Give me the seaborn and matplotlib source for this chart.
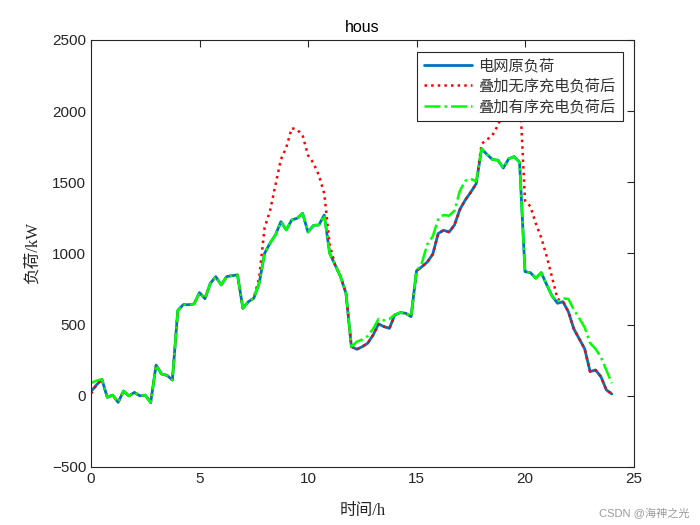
import numpy as np
import matplotlib
matplotlib.use('Agg')
import matplotlib.pyplot as plt
import seaborn as sns

# time axis, 15 min steps over one day
hours = np.arange(97) * 0.25

# original grid load (kW)
base_load = [
    30, 76, 116, -11, 5, -46, 34, -1, 24, 0, 5, -48,
    216, 153, 144, 111, 600, 640, 640, 645, 725, 682, 790, 837,
    779, 837, 844, 849, 615, 661, 685, 790, 1001, 1072, 1130, 1223,
    1165, 1235, 1247, 1282, 1150, 1197, 1200, 1270, 1001, 919, 837, 720,
    345, 327, 345, 369, 427, 505, 486, 474, 568, 584, 580, 556,
    878, 907, 940, 995, 1140, 1163, 1150, 1200, 1310, 1376, 1430, 1490,
    1735, 1695, 1660, 1655, 1600, 1665, 1680, 1640, 872, 865, 826, 865,
    780, 700, 650, 661, 590, 470, 400, 330, 170, 181, 134, 41, 13,
]

# load after uncoordinated EV charging
disordered_load = [
    15, 76, 116, -11, 5, -46, 34, -1, 24, 0, 5, -48,
    216, 153, 144, 111, 600, 640, 640, 645, 725, 682, 790, 837,
    779, 837, 844, 849, 615, 661, 685, 830, 1180, 1300, 1480, 1660,
    1745, 1880, 1870, 1830, 1690, 1635, 1550, 1420, 1060, 919, 837, 720,
    345, 327, 345, 369, 427, 505, 486, 474, 568, 584, 580, 556,
    878, 907, 940, 995, 1140, 1163, 1150, 1200, 1310, 1376, 1430, 1490,
    1770, 1800, 1830, 1900, 1990, 2100, 2150, 2150, 1370, 1330, 1210, 1110,
    980, 830, 680, 661, 590, 470, 400, 330, 170, 181, 134, 41, 13,
]

# load after coordinated EV charging
ordered_load = [
    90, 106, 116, -11, 5, -46, 34, -1, 24, 0, 5, -48,
    216, 153, 144, 111, 600, 640, 640, 645, 725, 682, 790, 837,
    779, 837, 844, 849, 615, 661, 685, 790, 1001, 1072, 1130, 1223,
    1165, 1235, 1247, 1282, 1150, 1197, 1200, 1270, 1001, 919, 837, 720,
    345, 380, 395, 420, 470, 540, 530, 540, 570, 584, 580, 556,
    878, 935, 1065, 1120, 1240, 1270, 1265, 1300, 1440, 1510, 1525, 1505,
    1735, 1695, 1660, 1655, 1600, 1665, 1680, 1640, 872, 865, 826, 865,
    780, 700, 660, 685, 680, 605, 545, 480, 370, 330, 270, 180, 88,
]

labels = ['电网原负荷', '叠加无序充电负荷后', '叠加有序充电负荷后']

sns.set_style('white')
plt.rcParams['font.family'] = ['Liberation Sans', 'Noto Sans CJK SC']
cjk_serif = ['Liberation Serif', 'Noto Sans CJK SC']
dark = '#262626'

fig = plt.figure(figsize=(7, 5.25), dpi=100)
ax = fig.add_axes([0.13, 0.1105, 0.775, 0.8135])

sns.lineplot(x=hours, y=base_load, ax=ax, color='#0072BD', linewidth=2,
             label=labels[0])
sns.lineplot(x=hours, y=disordered_load, ax=ax, color='#FF0000', linewidth=1.8,
             linestyle=':', label=labels[1])
sns.lineplot(x=hours, y=ordered_load, ax=ax, color='#00FF00', linewidth=1.8,
             linestyle='-.', label=labels[2])

ax.set_xlim(0, 25)
ax.set_ylim(-500, 2500)
ax.set_xticks(np.arange(0, 26, 5))
ax.set_yticks(np.arange(-500, 2501, 500))
ax.tick_params(direction='in', length=5, width=0.8, colors=dark,
               labelsize=11, top=True, right=True, labelcolor=dark)
for sp in ax.spines.values():
    sp.set_color(dark)
    sp.set_linewidth(0.8)

ax.set_title('hous', fontsize=11.5, color='black')
ax.set_xlabel('时间/h', fontsize=12, family=cjk_serif, color=dark, labelpad=12)
ax.set_ylabel('负荷/kW', fontsize=12, family=cjk_serif, color=dark, labelpad=8)

leg = ax.legend(loc='upper right', bbox_to_anchor=(0.98, 0.972),
                prop={'family': cjk_serif, 'size': 11},
                frameon=True, fancybox=False, framealpha=1,
                edgecolor=dark, handlelength=3.2, borderpad=0.45,
                labelspacing=0.36, handletextpad=0.4, borderaxespad=0)
leg.get_frame().set_linewidth(0.8)
for t in leg.get_texts():
    t.set_color('#333333')

fig.text(0.985, 0.012, 'CSDN @海神之光', ha='right', va='bottom',
         fontsize=8, color='#9a9a9a', family=['Liberation Sans', 'Noto Sans CJK SC'])

fig.savefig('out.png', dpi=100, facecolor='white')
